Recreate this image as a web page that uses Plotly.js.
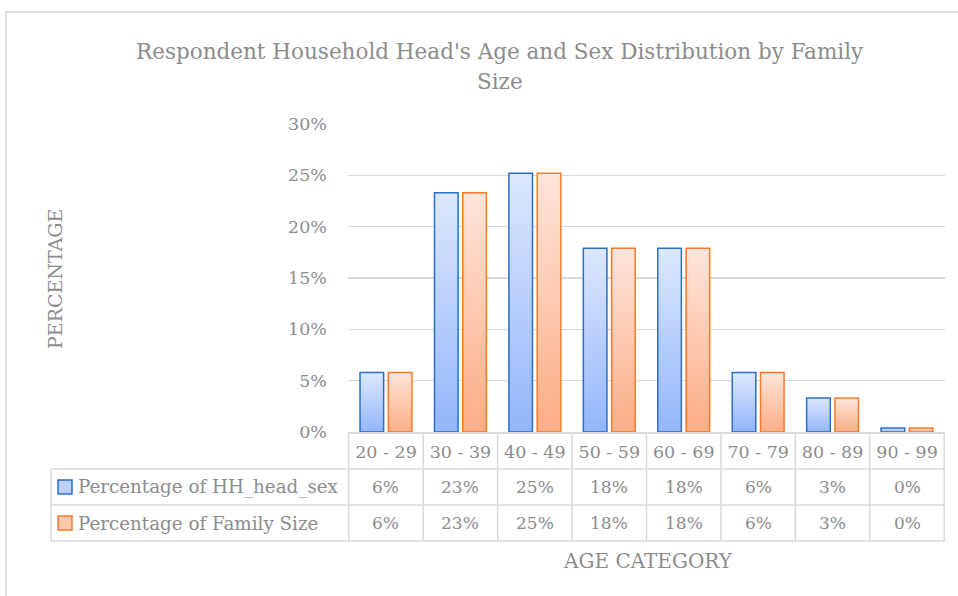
<!DOCTYPE html>
<html><head><meta charset="utf-8">
<script src="https://cdn.plot.ly/plotly-3.0.1.min.js"></script>
<style>html,body{margin:0;padding:0;background:#fff;}</style>
</head><body>
<div id="chart" style="width:958px;height:596px;"></div>
<script>
const categories = ["20 - 29","30 - 39","40 - 49","50 - 59","60 - 69","70 - 79","80 - 89","90 - 99"];
const seriesNames = ["Percentage of HH_head_sex","Percentage of Family Size"];
const hhHeadSex = [0.058,0.233,0.252,0.179,0.179,0.058,0.033,0.004];
const familySize = [0.058,0.233,0.252,0.179,0.179,0.058,0.033,0.004];
const yTickVals = [0,0.05,0.10,0.15,0.20,0.25,0.30];

const FONT = "DejaVu Serif";
const GREY = "#8c8c8c";
const LINE = "#d9d9d9";
const W = 958, H = 596, L = 348, R = 13, T = 124, B = 164;
const PW = W - L - R, PH = H - T - B;
const px = x => (x - L) / PW;
const py = y => (H - B - y) / PH;

const colors = [{line:"#2b70c8", fill:"#bcd0fb", top:"#dde8fd", bot:"#93b6fb"},
                {line:"#fb7a2a", fill:"#fdc7ab", top:"#fee5da", bot:"#fcad85"}];
const seriesData = [hhHeadSex, familySize];

const traces = seriesData.map((d,i)=>({
  type:"bar", x:categories, y:d, name:seriesNames[i],
  marker:{color:colors[i].fill, line:{color:colors[i].line, width:1.5}},
  hoverinfo:"skip"
}));

const rowTop = [469, 505, 541];
const shapes = [];
const annotations = [];
// frame
shapes.push({type:"rect", xref:"paper", yref:"paper", x0:px(6), x1:px(1000), y0:py(12), y1:py(700), line:{color:LINE,width:1.5}, fillcolor:"rgba(0,0,0,0)", layer:"below"});
// table vertical lines at category boundaries
for (let k=0;k<=categories.length;k++){
  shapes.push({type:"line", xref:"x", yref:"paper", x0:k-0.5, x1:k-0.5, y0:py(432), y1:py(rowTop[2]), line:{color:LINE,width:1.5}});
}
// horizontal lines
rowTop.forEach(yy=>{
  shapes.push({type:"line", xref:"paper", yref:"paper", x0:px(51), x1:1, y0:py(yy), y1:py(yy), line:{color:LINE,width:1.5}});
});
shapes.push({type:"line", xref:"paper", yref:"paper", x0:px(51), x1:px(51), y0:py(rowTop[0]), y1:py(rowTop[2]), line:{color:LINE,width:1.5}});
// legend keys + row labels + values
for (let i=0;i<2;i++){
  const yc = (rowTop[i] + rowTop[i+1]) / 2;
  shapes.push({type:"rect", xref:"paper", yref:"paper", x0:px(58), x1:px(72), y0:py(yc-7), y1:py(yc+7), fillcolor:colors[i].fill, line:{color:colors[i].line,width:1.5}});
  annotations.push({xref:"paper", yref:"paper", x:px(76), y:py(yc), xanchor:"left", yanchor:"middle", showarrow:false, text:seriesNames[i], font:{family:FONT,size:18.3,color:GREY}});
  seriesData[i].forEach((v,j)=>{
    annotations.push({xref:"x", yref:"paper", x:categories[j], y:py(yc), xanchor:"center", yanchor:"middle", showarrow:false, text:Math.round(v*100)+"%", font:{family:FONT,size:17,color:GREY}});
  });
}
// titles
annotations.push({xref:"paper", yref:"paper", x:px(500), y:py(52), xanchor:"center", yanchor:"middle", showarrow:false, text:"Respondent Household Head's Age and Sex Distribution by Family", font:{family:FONT,size:21.5,color:GREY}});
annotations.push({xref:"paper", yref:"paper", x:px(500), y:py(81), xanchor:"center", yanchor:"middle", showarrow:false, text:"Size", font:{family:FONT,size:21.5,color:GREY}});
annotations.push({xref:"paper", yref:"paper", x:px(55), y:py(279), xanchor:"center", yanchor:"middle", textangle:-90, showarrow:false, text:"PERCENTAGE", font:{family:FONT,size:19,color:GREY}});
annotations.push({xref:"paper", yref:"paper", x:px(648), y:py(561), xanchor:"center", yanchor:"middle", showarrow:false, text:"AGE CATEGORY", font:{family:FONT,size:20,color:GREY}});

const layout = {
  width:W, height:H, margin:{l:L,r:R,t:T,b:B,pad:0},
  paper_bgcolor:"#fff", plot_bgcolor:"#fff",
  showlegend:false, barmode:"group", bargap:0.24, bargroupgap:0.166,
  font:{family:FONT, color:GREY},
  xaxis:{type:"category", showgrid:false, zeroline:false, showline:true, linecolor:LINE, linewidth:1.5,
         ticks:"", tickfont:{family:FONT,size:17.5,color:GREY}, ticklabelstandoff:3, fixedrange:true},
  yaxis:{range:[0,0.30], tickvals:yTickVals, tickformat:".0%", showgrid:true, gridcolor:LINE, gridwidth:1.5,
         zeroline:false, showline:false, ticks:"", tickfont:{family:FONT,size:17.5,color:GREY}, ticklabelstandoff:20, fixedrange:true},
  shapes:shapes, annotations:annotations
};

Plotly.newPlot("chart", traces, layout, {displayModeBar:false, staticPlot:true}).then(gd=>{
  const svg = gd.querySelector("svg.main-svg");
  const ns = "http://www.w3.org/2000/svg";
  let defs = svg.querySelector("defs");
  if(!defs){defs = document.createElementNS(ns,"defs"); svg.insertBefore(defs, svg.firstChild);}
  colors.forEach((c,i)=>{
    const g = document.createElementNS(ns,"linearGradient");
    g.setAttribute("id","barGrad"+i); g.setAttribute("x1","0"); g.setAttribute("y1","0"); g.setAttribute("x2","0"); g.setAttribute("y2","1");
    [[0,c.top],[1,c.bot]].forEach(([o,col])=>{const s=document.createElementNS(ns,"stop"); s.setAttribute("offset",o); s.setAttribute("stop-color",col); g.appendChild(s);});
    defs.appendChild(g);
  });
  gd.querySelectorAll("g.trace.bars").forEach((t,i)=>{
    t.querySelectorAll("path").forEach(p=>{p.style.fill="url(#barGrad"+i+")";});
  });
});
</script>
</body></html>
